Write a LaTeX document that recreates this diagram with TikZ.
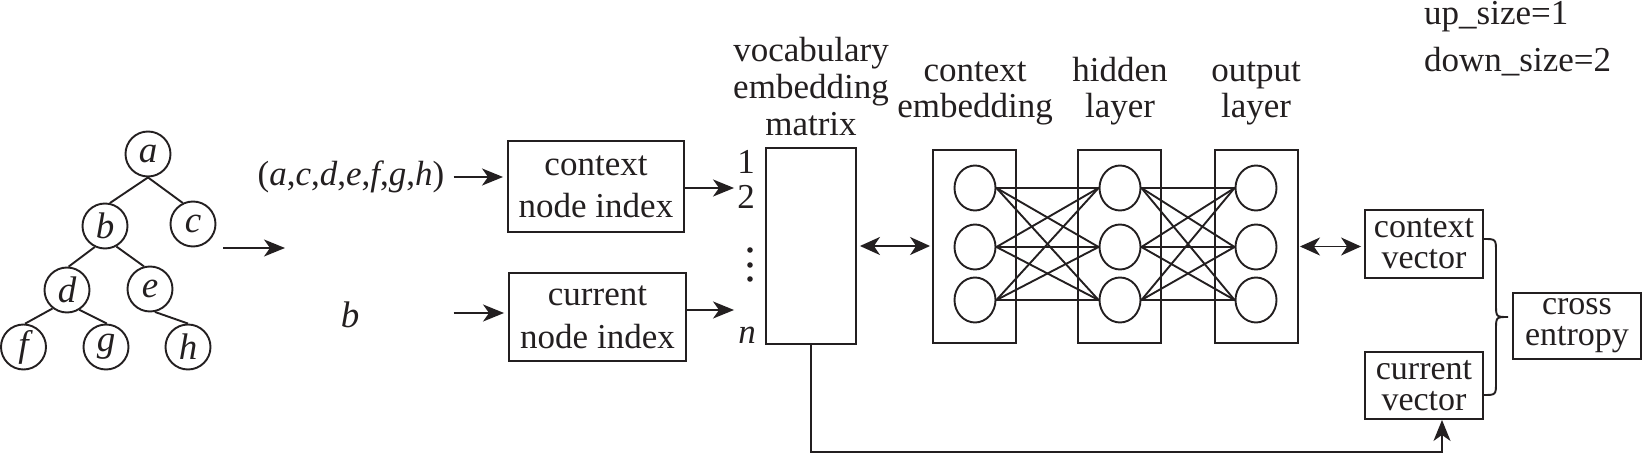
\documentclass[tikz,border=0pt]{standalone}
\usepackage{fontspec}
\setmainfont{Liberation Serif}
\usetikzlibrary{arrows.meta,shapes.geometric}
\definecolor{ink}{RGB}{35,31,32}
\begin{document}
\begin{tikzpicture}[x=1pt,y=-1pt,
  every node/.style={text=ink, font=\fontsize{35}{42}\selectfont},
  line/.style={draw=ink, line width=1.9pt},
  arr/.style={line, -{Stealth[length=21pt,width=17pt,inset=6pt]}},
  darr/.style={line, {Stealth[length=20pt,width=18pt,inset=6pt]}-{Stealth[length=20pt,width=18pt,inset=6pt]}},
  tnode/.style={circle, draw=ink, line width=1.9pt, minimum size=45pt, inner sep=0pt, font=\fontsize{37}{37}\selectfont\itshape},
  box/.style={rectangle, draw=ink, line width=1.9pt, inner sep=0pt, align=center},
  unit/.style={ellipse, draw=ink, line width=1.9pt, minimum width=41pt, minimum height=45pt, inner sep=0pt},
  title/.style={anchor=south, inner sep=0pt, align=center}
]
\useasboundingbox (0,0) rectangle (1642,454);

% tree
\node[tnode] (a) at (148,154) {a};
\node[tnode] (b) at (105,226) {b};
\node[tnode] (c) at (193,224) {c};
\node[tnode] (d) at (67,290) {d};
\node[tnode] (e) at (150,289) {e};
\node[tnode] (f) at (23.5,347) {f};
\node[tnode] (g) at (106,347) {g};
\node[tnode] (h) at (188,347) {h};
\draw[line] (a.-90) -- (b.78);
\draw[line] (a.-90) -- (c.116);
\draw[line] (b.-116) -- (d.86);
\draw[line] (b.-61) -- (e.105);
\draw[line] (d.-128) -- (f.86);
\draw[line] (d.-58) -- (g.88);
\draw[line] (e.-78) -- (h.90);

\coordinate (tr1) at (223,248);
\coordinate (tr2) at (285,248);
\draw[arr] (tr1) -- (tr2);

% inputs
\node[inner sep=3pt] (tuple) at (351,177) {(\textit{a},\textit{c},\textit{d},\textit{e},\textit{f},\textit{g},\textit{h})};
\node[inner sep=3pt, font=\fontsize{37}{37}\selectfont] (bin) at (350,315) {\itshape b};

\node[box, minimum width=176pt, minimum height=91pt] (ctxidx) at (596,186.5) {context\\node index};
\node[box, minimum width=177pt, minimum height=88pt, font=\fontsize{35}{43}\selectfont] (curidx) at (597.5,317) {current\\node index};

\draw[arr, shorten <=6pt, shorten >=4pt] (tuple.east) -- (tuple.east -| ctxidx.west);
\draw[arr, shorten <=6pt, shorten >=4pt] (tuple.east |- 0,313) coordinate (bst) -- (bst -| curidx.west);

% matrix
\node[box, minimum width=90pt, minimum height=196pt] (mat) at (811,246) {};
\node[inner sep=3pt] (n1) at (746,162) {1};
\node[inner sep=3pt] (n2) at (746,197) {2};
\node[inner sep=3pt] (nn) at (747,335) {\itshape n};
\fill[ink] (750,250) circle (2.8pt) (750,265) circle (2.8pt) (750,279) circle (2.8pt);
\node[title, font=\fontsize{35}{37}\selectfont] (tvocab) at (811,136) {vocabulary\\embedding\\matrix};

\draw[arr] ([yshift=-1.5pt]ctxidx.east) -- ([yshift=-1.5pt]ctxidx.east -| n2.west);
\draw[arr] ([yshift=7pt]curidx.east) -- ([yshift=7pt]curidx.east -| n2.west);

% network
\node[box, minimum width=83pt, minimum height=193pt] (ctxL) at (974.5,246.5) {};
\node[box, minimum width=83pt, minimum height=193pt] (hidL) at (1119.5,246.5) {};
\node[box, minimum width=83pt, minimum height=193pt] (outL) at (1256.5,246.5) {};
\foreach \i/\y in {1/188,2/247,3/300} {
  \node[unit] (c\i) at (975,\y) {};
  \node[unit] (h\i) at (1120,\y) {};
  \node[unit] (o\i) at (1256,\y) {};
}
\foreach \i in {1,2,3} {
  \foreach \j in {1,2,3} {
    \draw[line] (c\i.east) -- (h\j.west);
    \draw[line] (h\i.east) -- (o\j.west);
  }
}
\node[title, font=\fontsize{35}{36}\selectfont] (tctx) at (975,125) {context\\embedding};
\node[title, font=\fontsize{35}{36}\selectfont] (thid) at (1120,125) {hidden\\layer};
\node[title, font=\fontsize{35}{36}\selectfont] (tout) at (1256,125) {output\\layer};

\draw[darr, shorten <=3pt, shorten >=2pt] (mat.east) -- (mat.east -| ctxL.west);

% right part
\node[box, minimum width=118pt, minimum height=68pt, font=\fontsize{34}{31}\selectfont] (cvec) at (1424,244) {context\\vector};
\node[box, minimum width=118pt, minimum height=67pt, font=\fontsize{34}{31}\selectfont] (curvec) at (1424,385.5) {current\\vector};
\node[box, minimum width=128pt, minimum height=66pt, font=\fontsize{34}{31}\selectfont] (xent) at (1577,326) {cross\\entropy};

\draw[darr, shorten <=1pt, shorten >=3pt] (outL.east) -- (outL.east -| cvec.west);

\draw[line] (1483,239) .. controls (1496,239) .. (1496,252) -- (1496,304)
  .. controls (1496,317) .. (1508,317) .. controls (1496,317) .. (1496,330)
  -- (1496,382) .. controls (1496,395) .. (1483,395);

\coordinate (bot) at (1442,452);
\draw[arr] (mat.south) |- (bot) -- (bot |- curvec.south);

\node[anchor=south west, inner sep=0pt, align=left, font=\fontsize{35}{47}\selectfont] (sizes) at (1424,76) {up\textunderscore size=1\\down\textunderscore size=2};
\end{tikzpicture}
\end{document}
